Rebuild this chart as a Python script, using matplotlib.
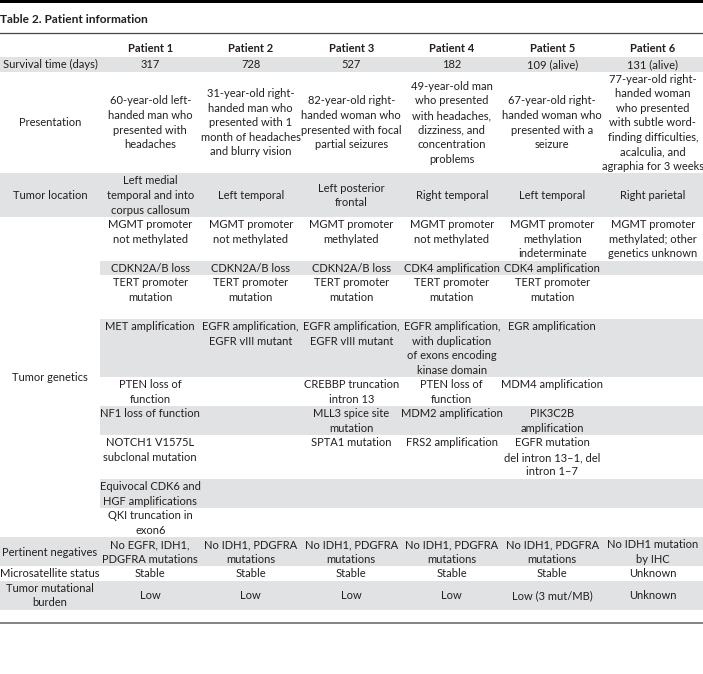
import matplotlib.pyplot as plt

plt.rcParams['font.family'] = ['Lato', 'DejaVu Sans']

title = "Table 2. Patient information"
patients = ["Patient 1", "Patient 2", "Patient 3", "Patient 4", "Patient 5", "Patient 6"]

survival = ["317", "728", "527", "182", "109 (alive)", "131 (alive)"]
presentation = [
    "60-year-old left-\nhanded man who\npresented with\nheadaches",
    "31-year-old right-\nhanded man who\npresented with 1\nmonth of headaches\nand blurry vision",
    "82-year-old right-\nhanded woman who\npresented with focal\npartial seizures",
    "49-year-old man\nwho presented\nwith headaches,\ndizziness, and\nconcentration\nproblems",
    "67-year-old right-\nhanded woman who\npresented with a\nseizure",
    "77-year-old right-\nhanded woman\nwho presented\nwith subtle word-\nfinding difficulties,\nacalculia, and\nagraphia for 3 weeks",
]
location = ["Left medial\ntemporal and into\ncorpus callosum", "Left temporal",
            "Left posterior\nfrontal", "Right temporal", "Left temporal", "Right parietal"]

genetics = [
    ["MGMT promoter\nnot methylated", "MGMT promoter\nnot methylated", "MGMT promoter\nmethylated",
     "MGMT promoter\nnot methylated", "MGMT promoter\nmethylation\nindeterminate",
     "MGMT promoter\nmethylated; other\ngenetics unknown"],
    ["CDKN2A/B loss", "CDKN2A/B loss", "CDKN2A/B loss", "CDK4 amplification", "CDK4 amplification", ""],
    ["TERT promoter\nmutation"] * 5 + [""],
    ["MET amplification", "EGFR amplification,\nEGFR vIII mutant", "EGFR amplification,\nEGFR vIII mutant",
     "EGFR amplification,\nwith duplication\nof exons encoding\nkinase domain", "EGR amplification", ""],
    ["PTEN loss of\nfunction", "", "CREBBP truncation\nintron 13", "PTEN loss of\nfunction",
     "MDM4 amplification", ""],
    ["NF1 loss of function", "", "MLL3 spice site\nmutation", "MDM2 amplification",
     "PIK3C2B\namplification", ""],
    ["NOTCH1 V1575L\nsubclonal mutation", "", "SPTA1 mutation", "FRS2 amplification",
     "EGFR mutation\ndel intron 13–1, del\nintron 1–7", ""],
    ["Equivocal CDK6 and\nHGF amplifications", "", "", "", "", ""],
    ["QKI truncation in\nexon6", "", "", "", "", ""],
]
genetics_lines = [3, 1, 3, 4, 2, 2, 3, 2, 2]

negatives = ["No EGFR, IDH1,\nPDGFRA mutations"] + ["No IDH1, PDGFRA\nmutations"] * 4 + ["No IDH1 mutation\nby IHC"]
microsat = ["Stable"] * 5 + ["Unknown"]
tmb = ["Low", "Low", "Low", "Low", "Low (3 mut/MB)", "Unknown"]

W, H = 703, 674
LH = 14.55
FS = 8.0
GRAY = "#e1e2e4"
INK = "#231f20"

fig = plt.figure(figsize=(W / 100, H / 100), dpi=100)
ax = fig.add_axes([0, 0, 1, 1])
ax.set_xlim(0, W)
ax.set_ylim(H, 0)
ax.axis("off")

label_w = 100
col_w = (W - label_w) / 6
centers = [label_w + (i + 0.5) * col_w for i in range(6)]


def draw_lines(x, top, n_rows, text, align="center", bold=False, size=FS):
    lines = text.split("\n")
    if align == "center":
        start = top + (n_rows - len(lines)) * LH / 2
    else:
        start = top
    for k, ln in enumerate(lines):
        ax.text(x, start + (k + 0.5) * LH + 3.8, ln, ha="center", va="baseline",
                fontsize=size, color=INK, fontweight="bold" if bold else "normal")


def band(top, n, x0=0):
    ax.fill_between([x0, W], top, top + n * LH, color=GRAY, lw=0)


# rules and title
ax.fill_between([0, W], 0, 2.6, color="black", lw=0)
ax.text(0, 23, title, ha="left", va="baseline", fontsize=8.6, fontweight="bold", color=INK)
ax.plot([0, W], [33, 33], color="#444444", lw=0.9)

for x, p in zip(centers, patients):
    draw_lines(x, 41, 1, p, bold=True)

y = 57.0
simple_rows = [("Survival time (days)", survival, 1, True),
               ("Presentation", presentation, 7, False),
               ("Tumor location", location, 3, True)]
for lab, vals, n, shade in simple_rows:
    if shade:
        band(y, n)
    draw_lines(label_w / 2, y, n, lab)
    for x, v in zip(centers, vals):
        draw_lines(x, y, n, v)
    y += n * LH

gen_top = y
for i, (vals, n) in enumerate(zip(genetics, genetics_lines)):
    if i % 2 == 1:
        band(y, n, x0=label_w)
    for x, v in zip(centers, vals):
        draw_lines(x, y, n, v, align="top")
    y += n * LH
draw_lines(label_w / 2, gen_top, (y - gen_top) / LH, "Tumor genetics")

tail_rows = [("Pertinent negatives", negatives, 2, True),
             ("Microsatellite status", microsat, 1, False),
             ("Tumor mutational\nburden", tmb, 2, True)]
for lab, vals, n, shade in tail_rows:
    if shade:
        band(y, n)
    draw_lines(label_w / 2, y, n, lab)
    for x, v in zip(centers, vals):
        draw_lines(x, y, n, v)
    y += n * LH

ax.plot([0, W], [y + 13.5, y + 13.5], color="#7a7a7a", lw=1.3)

fig.savefig("out.png", dpi=100)
